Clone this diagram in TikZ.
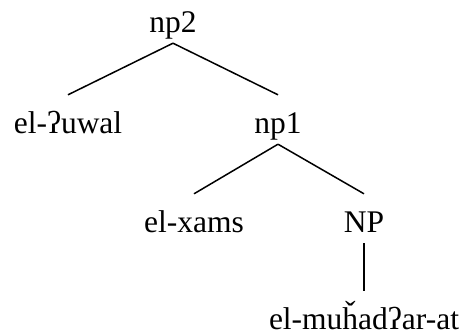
\documentclass[tikz,border=0pt]{standalone}
\usepackage{fontspec}
\setmainfont{Liberation Serif}
\begin{document}
\begin{tikzpicture}[x=1pt,y=-1pt,
  lbl/.style={anchor=base,inner xsep=0pt,inner ysep=6pt,
    text height=32pt,text depth=5pt,
    font=\fontsize{31.5}{36}\selectfont},
  leaf/.style={lbl,text depth=0pt},
  branch/.style={line width=1.5pt,black}]
  \useasboundingbox[fill=white] (0,0) rectangle (465,335);
  % tree nodes
  \node[lbl]  (np2)  at (173,32)  {np2};
  \node[lbl]  (uwal) at (68,133)  {el-ʔuwal};
  \node[lbl]  (np1)  at (278,133) {np1};
  \node[lbl]  (xams) at (194,232) {el-xams};
  \node[lbl]  (NP)   at (364,232) {NP};
  \node[leaf] (muh)  at (364,329) {el-muȟadʔar-at};
  % branches
  \draw[branch] (np2.south) -- (uwal.north);
  \draw[branch] (np2.south) -- (np1.north);
  \draw[branch] (np1.south) -- (xams.north);
  \draw[branch] (np1.south) -- (NP.north);
  \draw[branch] (NP.south)  -- (muh.north);
\end{tikzpicture}
\end{document}
